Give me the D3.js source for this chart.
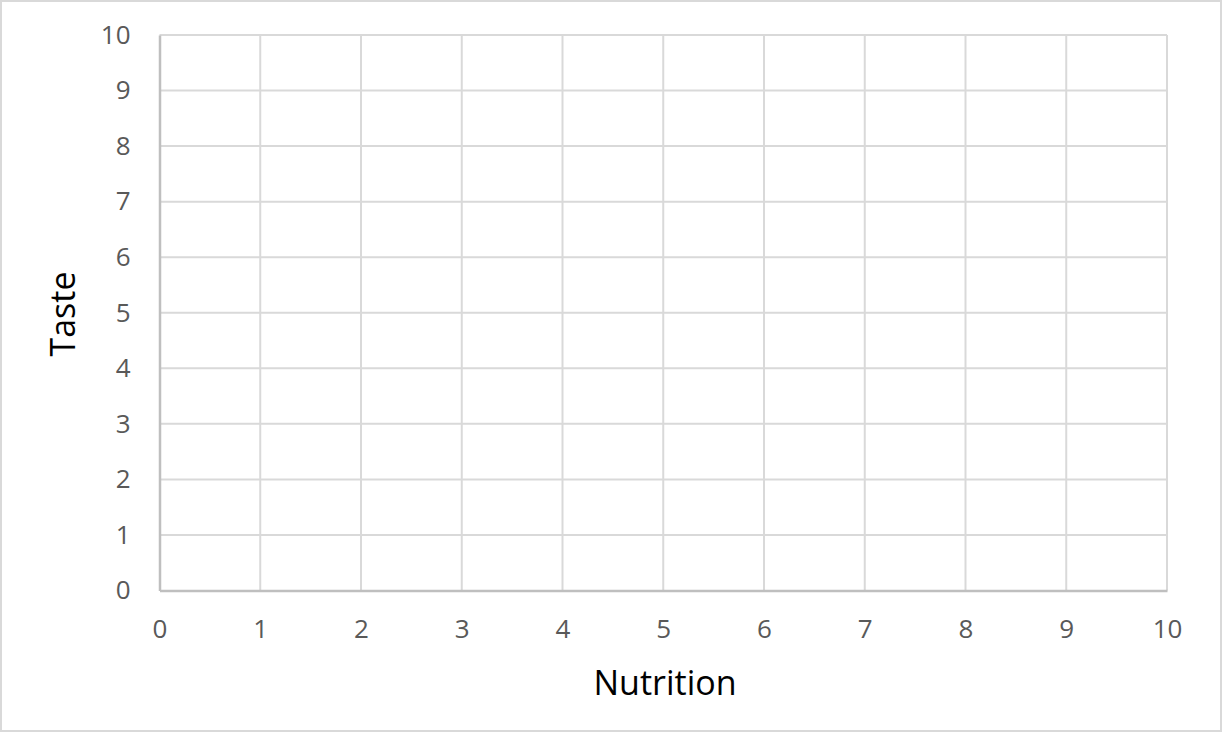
<!DOCTYPE html>
<html><head><meta charset="utf-8">
<script src="https://cdn.jsdelivr.net/npm/d3@7"></script>
<style>body{margin:0;background:#fff}svg{display:block}</style>
</head><body><svg id="c" width="1222" height="732"></svg>
<script>
const xTicks = [0,1,2,3,4,5,6,7,8,9,10];
const yTicks = [0,1,2,3,4,5,6,7,8,9,10];
const nutrition = [];
const taste = [];
const xTitle = "Nutrition";
const yTitle = "Taste";

const svg = d3.select("#c");
const W = 1222, H = 732;
svg.append("rect").attr("x",1).attr("y",1).attr("width",W-2).attr("height",H-2)
  .attr("fill","#fff").attr("stroke","#d9d9d9").attr("stroke-width",2);

const x = d3.scaleLinear().domain([0,10]).range([159.5,1167]);
const y = d3.scaleLinear().domain([0,10]).range([590.5,35]);
const font = "'Open Sans', sans-serif";

const g = svg.append("g");
g.selectAll(".vg").data(xTicks.slice(1)).join("line")
  .attr("x1",d=>x(d)).attr("x2",d=>x(d)).attr("y1",y(10)).attr("y2",y(0))
  .attr("stroke","#d9d9d9").attr("stroke-width",2);
g.selectAll(".hg").data(yTicks.slice(1)).join("line")
  .attr("x1",x(0)).attr("x2",x(10)).attr("y1",d=>y(d)).attr("y2",d=>y(d))
  .attr("stroke","#d9d9d9").attr("stroke-width",2);

const xAxis = svg.append("g").attr("transform",`translate(0,${y(0)})`)
  .call(d3.axisBottom(x).tickValues(xTicks).tickSize(0).tickPadding(29).tickFormat(d3.format("d")));
const yAxis = svg.append("g").attr("transform",`translate(${x(0)},0)`)
  .call(d3.axisLeft(y).tickValues(yTicks).tickSize(0).tickPadding(29).tickFormat(d3.format("d")));
[xAxis,yAxis].forEach(a=>{
  a.select(".domain").attr("stroke","#bfbfbf").attr("stroke-width",2.5);
  a.selectAll("text").attr("fill","#595959").style("font-family",font).style("font-size","26px");
});

svg.selectAll(".pt").data(nutrition.map((d,i)=>[d,taste[i]])).join("circle")
  .attr("cx",d=>x(d[0])).attr("cy",d=>y(d[1])).attr("r",5).attr("fill","#4472c4");

svg.append("text").attr("x",665).attr("y",695).attr("text-anchor","middle")
  .style("font-family",font).style("font-size","34px").attr("fill","#000").text(xTitle);
svg.append("text").attr("transform",`translate(75,314) rotate(-90)`).attr("text-anchor","middle")
  .style("font-family",font).style("font-size","34px").attr("fill","#000").text(yTitle);
</script></body></html>
